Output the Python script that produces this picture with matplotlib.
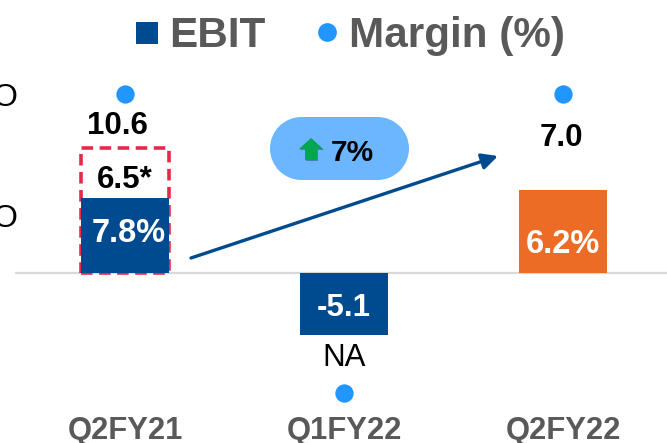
import matplotlib
matplotlib.use("Agg")
import matplotlib.pyplot as plt
from matplotlib.patches import Circle, Polygon, Rectangle, FancyArrowPatch
from matplotlib.transforms import Affine2D

plt.rcParams['font.family'] = ['Liberation Sans', 'DejaVu Sans']

categories = ["Q2FY21", "Q1FY22", "Q2FY22"]
ebit = [6.35, -5.25, 7.03]
ebit_adjusted = 10.6
margin_levels = [15.2, -10.2, 15.2]
ebit_labels = ["10.6", "NA", "7.0"]
inner_labels = ["7.8%", "-5.1", "6.2%"]
bar_colors = ["#004B8F", "#004B8F", "#EC6C25"]

W, H = 667, 443
fig = plt.figure(figsize=(W / 100, H / 100), dpi=100)
ax = fig.add_axes([0, 0, 1, 1])
ppx, ppy = 219.0, 11.8
x0, y0 = 125.0, 273.0
ax.set_xlim(-x0 / ppx, (W - x0) / ppx)
ax.set_ylim((y0 - H) / ppy, y0 / ppy)
ax.axis("off")
px = Affine2D().scale(1 / W, -1 / H).translate(0, 1) + fig.transFigure

# baseline
ax.add_line(plt.Line2D([16, W], [273, 273], color="#D9D9D9", lw=1.6, transform=px, zorder=1))

# bars
bw = 88 / ppx
ax.bar(0, ebit_adjusted, width=bw, facecolor="none", edgecolor="#E8274B", lw=2.6,
       linestyle=(0, (3.2, 1.8)), zorder=2)
ax.bar(range(3), ebit, width=bw, color=bar_colors, zorder=3)

# margin dots
ax.plot(range(3), margin_levels, ls="none", marker="o", ms=13.2, color="#2196FF",
        mec="none", zorder=4)

TS = 22.5
LS = 22.3
def t(x, y, s, **kw):
    kw.setdefault("fontsize", TS)
    kw.setdefault("fontweight", "bold")
    kw.setdefault("ha", "center")
    kw.setdefault("va", "center_baseline")
    kw.setdefault("color", "black")
    return ax.text(x, y, s, transform=px, zorder=6, **kw)

# value labels
t(117, 122, ebit_labels[0])
t(125, 177, "6.5*")
t(344, 355, ebit_labels[1], fontweight="normal")
t(561, 135, ebit_labels[2])
t(129, 230, inner_labels[0], color="white", fontsize=23.5)
t(344, 305, inner_labels[1], color="white")
t(563, 241, inner_labels[2], color="white", fontsize=23.5)

# category labels
for x, c in zip(range(3), categories):
    ax.text(x, (y0 - 438.5) / ppy, c, ha="center", va="baseline", fontsize=LS,
            fontweight="bold", color="#595959")

# clipped labels at left edge
t(17, 94, "O", ha="right", fontweight="normal", fontsize=23)
t(17, 216, "O", ha="right", fontweight="normal", fontsize=23)

# trend arrow
ax.add_patch(FancyArrowPatch((191, 258), (498, 156), transform=px, arrowstyle="-|>",
                             mutation_scale=24, lw=2.4, color="#004B8F", shrinkA=0,
                             shrinkB=0, zorder=5))

# growth pill
pill = "#6BB6FF"
ax.add_patch(Rectangle((301.5, 117), 76, 63, transform=px, fc=pill, ec="none", zorder=2))
ax.add_patch(Circle((301.5, 148.5), 31.5, transform=px, fc=pill, ec="none", zorder=2))
ax.add_patch(Circle((377.5, 148.5), 31.5, transform=px, fc=pill, ec="none", zorder=2))
arrow_pts = [(299, 149), (311, 138), (323, 149), (317, 149), (317, 160), (305, 160), (305, 149)]
ax.add_patch(Polygon([(a + 1, b + 1) for a, b in arrow_pts], closed=True, transform=px,
                     fc="#4A7FB5", ec="none", zorder=5))
ax.add_patch(Polygon(arrow_pts, closed=True, transform=px, fc="#00A651", ec="none", zorder=5))
t(352, 150, "7%", fontsize=21.5)

# legend
ax.add_patch(Rectangle((136, 22), 22, 22, transform=px, fc="#004B8F", ec="none"))
t(169, 31.5, "EBIT", ha="left", color="#595959", fontsize=30.4)
ax.plot([327], [32], marker="o", ms=13.5, color="#2196FF", mec="none", transform=px)
t(349, 31.5, "Margin (%)", ha="left", color="#595959", fontsize=30.4)

fig.savefig("out.png", dpi=100)
